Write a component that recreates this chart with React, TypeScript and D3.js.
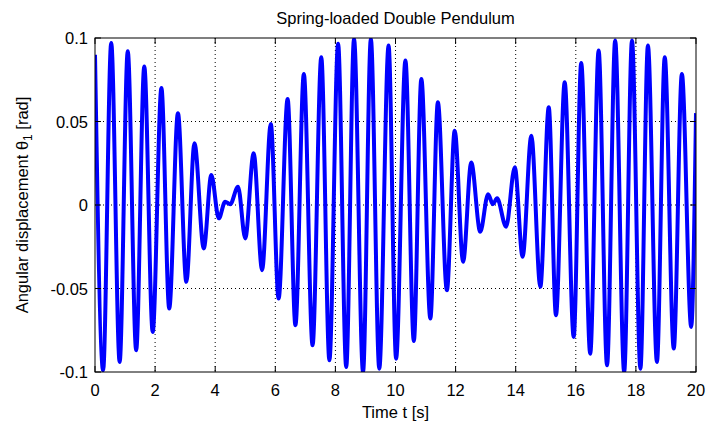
import React from "react";
import * as d3 from "d3";

const times = [0, 0.27, 0.54, 0.82, 1.09, 1.37, 1.64, 1.92, 2.21, 2.47, 2.76, 3.04, 3.31, 3.62, 3.87, 4.12, 4.33, 4.5, 4.76, 5.0, 5.28, 5.56, 5.85, 6.11, 6.41, 6.67, 6.95, 7.24, 7.53, 7.8, 8.09, 8.36, 8.62, 8.92, 9.18, 9.46, 9.77, 10.02, 10.33, 10.61, 10.86, 11.16, 11.41, 11.71, 11.97, 12.25, 12.52, 12.82, 13.08, 13.24, 13.38, 13.68, 13.97, 14.23, 14.52, 14.82, 15.1, 15.34, 15.63, 15.93, 16.18, 16.48, 16.76, 17.04, 17.31, 17.61, 17.87, 18.15, 18.4, 18.7, 18.96, 19.26, 19.53, 19.84, 20.0];
const theta1 = [0.09, -0.099, 0.097, -0.094, 0.092, -0.087, 0.083, -0.076, 0.07, -0.062, 0.055, -0.046, 0.037, -0.026, 0.018, -0.008, 0.002, 0.0005, 0.011, -0.02, 0.031, -0.039, 0.0485, -0.056, 0.0635, -0.072, 0.0785, -0.084, 0.0885, -0.093, 0.0965, -0.097, 0.0995, -0.1, 0.0995, -0.098, 0.0955, -0.092, 0.0865, -0.0815, 0.0755, -0.068, 0.0615, -0.051, 0.0445, -0.034, 0.0255, -0.016, 0.0065, 0.0005, 0.004, -0.013, 0.0226, -0.031, 0.0415, -0.049, 0.0585, -0.066, 0.0735, -0.079, 0.085, -0.089, 0.0925, -0.096, 0.0985, -0.1, 0.0985, -0.098, 0.0955, -0.094, 0.0885, -0.086, 0.0785, -0.073, 0.055];

const xTicks = [0, 2, 4, 6, 8, 10, 12, 14, 16, 18, 20];
const yTicks = [-0.1, -0.05, 0, 0.05, 0.1];
const yTickLabels = ["-0.1", "-0.05", "0", "0.05", "0.1"];

const title = "Spring-loaded Double Pendulum";
const xLabel = "Time t [s]";

const W = 706, H = 424;
const M = { left: 95, right: 10, top: 38, bottom: 52 };
const FONT = "'Liberation Sans', Arial, sans-serif";

export default function App() {
  const x = d3.scaleLinear().domain([0, 20]).range([M.left, W - M.right]);
  const y = d3.scaleLinear().domain([-0.1, 0.1]).range([H - M.bottom, M.top]);
  const data = times.map((t, i) => [t, theta1[i]] as [number, number]);
  const line = d3.line<[number, number]>().x(d => x(d[0])).y(d => y(d[1])).curve(d3.curveMonotoneX);
  const x0 = M.left, x1 = W - M.right, y0 = M.top, y1 = H - M.bottom;
  const tl = 6;
  return (
    <svg width={W} height={H} style={{ position: "fixed", left: 0, top: 0, background: "#fff" }} fontFamily={FONT}>
      <defs>
        <clipPath id="plotclip"><rect x={x0} y={y0} width={x1 - x0} height={y1 - y0} /></clipPath>
      </defs>
      {xTicks.slice(1, -1).map(t => (
        <line key={"gx" + t} x1={x(t)} x2={x(t)} y1={y0} y2={y1} stroke="#000" strokeWidth={1} strokeDasharray="1,3" />
      ))}
      {yTicks.slice(1, -1).map(t => (
        <line key={"gy" + t} x1={x0} x2={x1} y1={y(t)} y2={y(t)} stroke="#000" strokeWidth={1} strokeDasharray="1,3" />
      ))}
      <path d={line(data) || ""} fill="none" stroke="#0000ff" strokeWidth={4} strokeLinejoin="round" clipPath="url(#plotclip)" />
      <rect x={x0} y={y0} width={x1 - x0} height={y1 - y0} fill="none" stroke="#000" strokeWidth={1} />
      {xTicks.map(t => (
        <g key={"tx" + t}>
          <line x1={x(t)} x2={x(t)} y1={y1} y2={y1 - tl} stroke="#000" />
          <line x1={x(t)} x2={x(t)} y1={y0} y2={y0 + tl} stroke="#000" />
          <text x={x(t)} y={396} textAnchor="middle" fontSize={16.5}>{t}</text>
        </g>
      ))}
      {yTicks.map((t, i) => (
        <g key={"ty" + t}>
          <line x1={x0} x2={x0 + tl} y1={y(t)} y2={y(t)} stroke="#000" />
          <line x1={x1} x2={x1 - tl} y1={y(t)} y2={y(t)} stroke="#000" />
          <text x={88} y={y(t) + 6} textAnchor="end" fontSize={16.5}>{yTickLabels[i]}</text>
        </g>
      ))}
      <text x={(x0 + x1) / 2} y={24} textAnchor="middle" fontSize={16.5}>{title}</text>
      <text x={(x0 + x1) / 2} y={418} textAnchor="middle" fontSize={16.5}>{xLabel}</text>
      <text transform={`translate(28,${(y0 + y1) / 2}) rotate(-90)`} textAnchor="middle" fontSize={16.5}>
        Angular displacement θ<tspan fontSize={12} dy={4}>1</tspan><tspan dy={-4}> [rad]</tspan>
      </text>
    </svg>
  );
}
